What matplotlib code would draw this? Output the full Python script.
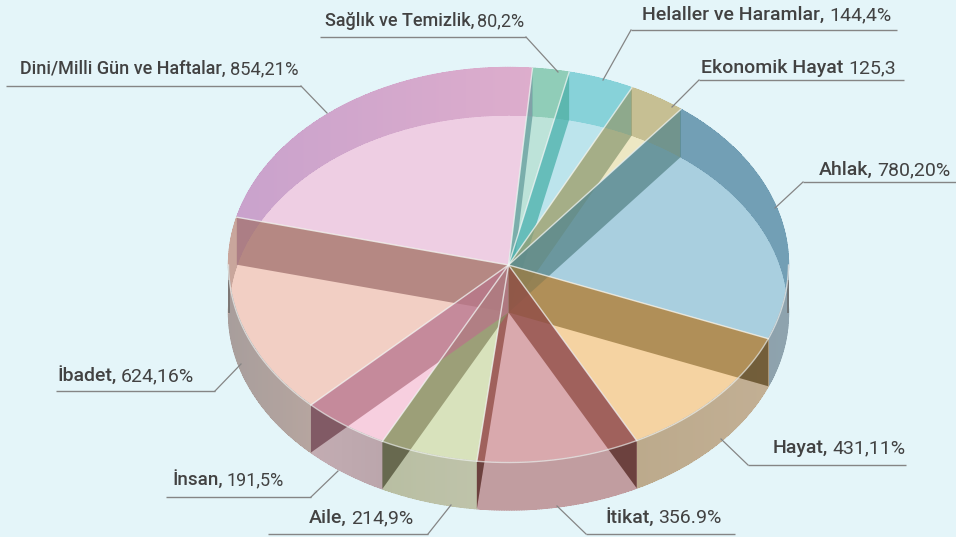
import numpy as np
import matplotlib
matplotlib.use("Agg")
import matplotlib.pyplot as plt
from matplotlib.colors import to_rgb
from matplotlib.collections import PolyCollection
from matplotlib.patches import Polygon

# ---- data (clockwise) ----
names = ["Dini/Milli Gün ve Haftalar,", "Sağlık ve Temizlik,", "Helaller ve Haramlar,", "Ekonomik Hayat",
         "Ahlak,", "Hayat,", "İtikat,", "Aile,", "İnsan,", "İbadet,"]
numbers = ["854,21%", "80,2%", "144,4%", "125,3", "780,20%", "431,11%", "356.9%", "214,9%", "191,5%", "624,16%"]
values = [854, 80, 144, 125, 780, 431, 356, 214, 191, 624]

# ---- style ----
BG = "#E4F5F9"
face = ["#EECEE3", "#BDE3D9", "#BCE4EC", "#EDE7C3", "#A9CFDF", "#F5D3A2", "#D9A9AD", "#D8E2BC", "#F7CFDF", "#F2CFC4"]
band = ["#C090B0", "#7BAEAC", "#66BDBB", "#A5AE88", "#6B989E", "#B08F58", "#A1615D", "#9C9F78", "#C68A9B", "#B58983"]
back_a = ["#C9A2CC", "#90CDB8", "#87D2D9", "#C6BF93", "#729FB5", "#BFAC8F", "#C19DA0", "#BBC0A5", "#C0A9AF", "#C9A69C"]
back_b = ["#DDADCC", "#90CDB8", "#87D2D9", "#C6BF93", "#729FB5", "#BFAC8F", "#C19DA0", "#BBC0A5", "#C0A9AF", "#C9A69C"]
front_a = ["#C9A2CC", "#90CDB8", "#87D2D9", "#C6BF93", "#8C9FA9", "#BCAA8C", "#C19DA0", "#B8BEA2", "#C3ACB2", "#A89E9C"]
front_b = ["#DDADCC", "#90CDB8", "#87D2D9", "#C6BF93", "#8EA3AE", "#C2AF94", "#C19DA0", "#BFC3AA", "#BBA6AC", "#B6A59F"]
TXT = "#424242"
LINE = "#858585"
CX, CY, RX, RY, DEPTH = 508.5, 265.0, 280.0, 197.5, 47.5
START = 166.0
ALPHA = 0.78

# (text x, baseline y, rule x0, rule x1, rule y, leader end x, leader end y, leader at right end?)
layout = [
    (20, 74, 6, 301, 86, 327, 113, True),
    (325, 26.5, 320, 526, 37, 558, 72, True),
    (642, 20, 631, 897, 30, 603, 80, False),
    (701, 73, 699, 904, 80, 672, 107, False),
    (819, 175, 803, 956, 182, 775, 208, False),
    (773, 453, 748, 906, 465, 721, 439, False),
    (606, 523, 586, 735, 534, 557, 506, False),
    (309, 523, 268, 428, 534, 451, 505, True),
    (173, 485, 166, 311, 497, 338, 471, True),
    (58, 381, 56, 215, 391, 241, 364, True),
]
name_size = [13, 13, 14, 14, 14, 14, 14, 14, 13.5, 14]
num_size = [13.2, 13, 14, 14, 14, 14, 14, 14, 13, 14]
gap = [4, 3, 5, 5, 4, 4, 4, 4, 3, 4]

plt.rcParams["font.family"] = ["Roboto", "DejaVu Sans"]
fig = plt.figure(figsize=(9.56, 5.37), dpi=100, facecolor=BG)
ax = fig.add_axes([0, 0, 1, 1])
ax.set_xlim(0, 956)
ax.set_ylim(537, 0)
ax.axis("off")


def rim(t):
    t = np.radians(t)
    return np.column_stack([CX + RX * np.cos(t), CY - RY * np.sin(t)])


def mix(a, b, f):
    a, b = np.array(to_rgb(a)), np.array(to_rgb(b))
    return a + (b - a) * f


vals = np.array(values, float)
sweeps = vals / vals.sum() * 360
edges = START - np.concatenate([[0], np.cumsum(sweeps)])
center = np.array([[CX, CY]])
down = np.array([0, DEPTH])

# top faces
for i in range(len(values)):
    ts = np.linspace(edges[i], edges[i + 1], 160)
    ax.add_patch(Polygon(np.vstack([center, rim(ts)]), closed=True, fc=face[i], ec=face[i], lw=0.4, zorder=2))

# outer wall, back and front, as thin gradient strips
for i in range(len(values)):
    ts = np.linspace(edges[i], edges[i + 1], max(8, int(sweeps[i] * 2)))
    polys, cols = [], []
    x0, x1 = rim(ts)[:, 0].min(), rim(ts)[:, 0].max()
    for a, b in zip(ts[:-1], ts[1:]):
        m = ((a + b) / 2) % 360
        ca, cb = (back_a[i], back_b[i]) if 0 < m < 180 else (front_a[i], front_b[i])
        pa, pb = rim(np.array([a]))[0], rim(np.array([b]))[0]
        f = ((pa[0] + pb[0]) / 2 - x0) / max(x1 - x0, 1)
        polys.append([pa, pb, pb + down, pa + down])
        cols.append(mix(ca, cb, f))
    ax.add_collection(PolyCollection(polys, facecolors=cols, edgecolors="none", antialiaseds=False, zorder=3))
    # soft edges
    for (pa, pb, pc, pd), c in zip(polys, cols):
        ax.plot([pc[0], pd[0]], [pc[1], pd[1]], color=c, lw=0.9, zorder=3)
        ax.plot([pa[0], pb[0]], [pa[1], pb[1]], color=c, lw=0.9, zorder=3)

# silhouette edges of the side wall
for sx in (CX - RX + 0.5, CX + RX - 0.5):
    ax.plot([sx, sx], [CY + 15, CY + DEPTH], color="#6E6E6E", lw=1.2, zorder=4, solid_capstyle="butt")

# area of the front wall, used to darken the radial walls that cross it
tf = np.linspace(180, 360, 300)
front_poly = np.vstack([rim(tf), rim(tf[::-1]) + down])

# radial walls seen through the glass: colour comes from the wedge they fall in
for i in range(len(values)):
    p = rim(np.array([edges[i]]))[0]
    mid = (p + center[0]) / 2 + down / 2
    ang = np.degrees(np.arctan2(-(mid[1] - CY) / RY, (mid[0] - CX) / RX))
    rel = (START - ang) % 360
    k = min(int(np.searchsorted(np.cumsum(sweeps), rel)), len(values) - 1)
    src = np.clip((np.array(to_rgb(band[k])) - (1 - ALPHA) * np.array(to_rgb(face[k]))) / ALPHA, 0, 1)
    quad = [center[0], p, p + down, center[0] + down]
    ax.add_patch(Polygon(quad, closed=True, fc=src, ec="none", alpha=ALPHA, zorder=5))
    shade = Polygon(quad, closed=True, fc="black", ec="none", alpha=0.3, zorder=5.5)
    ax.add_patch(shade)
    clip = Polygon(front_poly, closed=True, transform=ax.transData)
    shade.set_clip_path(clip)

# light outlines
for i in range(len(values)):
    p = rim(np.array([edges[i]]))[0]
    ax.plot([CX, p[0]], [CY, p[1]], color="#F2F6F4", lw=1.0, alpha=0.75, zorder=6)
r = rim(tf)
ax.plot(r[:, 0], r[:, 1], color="#F2F6F4", lw=1.0, alpha=0.65, zorder=6)

# labels
fig.canvas.draw()
rend = fig.canvas.get_renderer()
for j, (name, num, (tx, by, x0, x1, ry, lx, ly, at_right)) in enumerate(zip(names, numbers, layout)):
    t = ax.text(tx, by, name, fontsize=name_size[j], fontweight=500, color=TXT, va="baseline", ha="left", zorder=8)
    e = t.get_window_extent(rend)
    ax.text(e.x1 + gap[j], by, num, fontsize=num_size[j], color=TXT, va="baseline", ha="left", zorder=8)
    jx = x1 if at_right else x0
    ax.plot([x0, x1], [ry, ry], color=LINE, lw=1, zorder=7, solid_capstyle="butt")
    ax.plot([jx, lx], [ry, ly], color=LINE, lw=0.9, zorder=7)

fig.savefig("out.png", dpi=100, facecolor=BG)
